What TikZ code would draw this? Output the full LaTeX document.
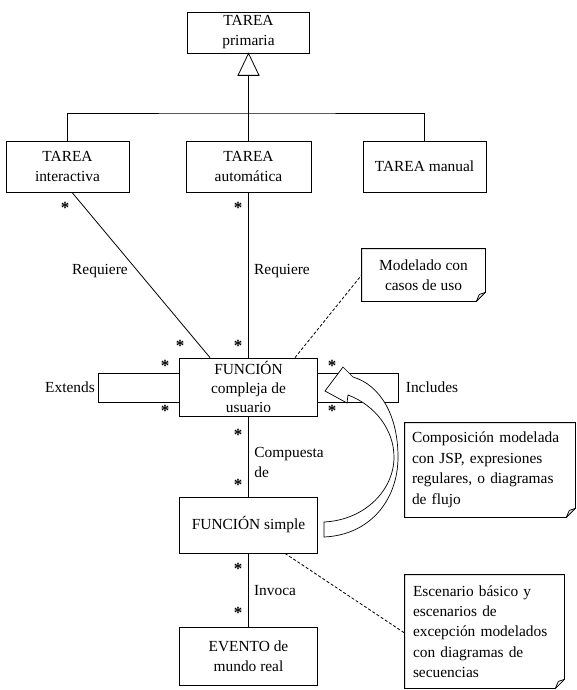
\documentclass[tikz,border=0pt]{standalone}
\usepackage{fontspec}
\setmainfont{Liberation Serif}
\begin{document}
\begin{tikzpicture}[x=1pt,y=-1pt,
  line width=0.8pt,
  font=\fontsize{15.4pt}{20pt}\selectfont,
  box/.style={draw, rectangle, inner sep=0pt, align=center},
  lbl/.style={inner sep=0pt},
  mult/.style={inner sep=0pt, anchor=base, font=\fontsize{17pt}{17pt}\selectfont\bfseries},
  notetext/.style={inner sep=0pt, align=left},
  assoc/.style={draw},
  anno/.style={draw, dashed, dash pattern=on 3pt off 2pt}]
\useasboundingbox (0,0) rectangle (577,690);

% note with folded bottom-right corner
\newcommand\foldednote[1]{%
  \draw[fill=white] (#1.north west) -- (#1.north east) -- ([yshift=9pt]#1.south east)
    -- ([xshift=-9pt]#1.south east) -- (#1.south west) -- cycle;
  \draw ([xshift=-9pt]#1.south east) .. controls ([xshift=-7pt,yshift=5pt]#1.south east)
    .. ([xshift=-6pt,yshift=7pt]#1.south east) -- ([yshift=9pt]#1.south east);}

% class boxes
\node[box, minimum width=122, minimum height=41] (prim) at (248.5,32.5) {TAREA\\primaria};
\node[box, minimum width=123, minimum height=51] (inter) at (67.5,166.5) {TAREA\\interactiva};
\node[box, minimum width=125, minimum height=51] (auto) at (248.5,166.5) {TAREA\\automática};
\node[box, minimum width=123, minimum height=51] (man) at (424.5,166.5) {TAREA manual};
\node[box, minimum width=138, minimum height=58, font=\fontsize{15.4pt}{19pt}\selectfont] (fc) at (248.5,387) {FUNCIÓN\\compleja de\\usuario};
\node[box, minimum width=138, minimum height=56] (fs) at (248.5,525) {FUNCIÓN simple};
\node[box, minimum width=138, minimum height=58] (ev) at (248.5,656) {EVENTO de\\mundo real};

% generalization tree
\draw[fill=white] (prim.south) -- ++(-10.5,22) -- ++(21,0) -- cycle;
\coordinate (tribase) at (248.5,76);
\coordinate (bus) at (248.5,113);
\draw (tribase) -- (auto.north);
\draw (inter.north) |- (bus) -| (man.north);

% associations
\draw[assoc] ([xshift=4.5pt]inter.south) -- ([xshift=-38.5pt]fc.north);
\draw[assoc] (auto.south) -- (fc.north);
\draw[assoc] (fc.south) -- (fs.north);
\draw[assoc] (fs.south) -- (ev.north);

% self associations
\draw[assoc] ([yshift=14pt]fc.west) -- ++(-81,0) -- ++(0,29) -- ([yshift=-15pt]fc.west);
\draw[assoc] ([yshift=14pt]fc.east) -- ++(80.5,0) -- ++(0,29) -- ([yshift=-15pt]fc.east);

% notes
\node[notetext, align=center, minimum width=123, minimum height=52] (n1) at (423.5,275) {};
\node[notetext, minimum width=170, minimum height=94] (n2) at (490,470) {};
\node[notetext, minimum width=159, minimum height=113] (n3) at (484.5,631.5) {};
\foldednote{n1}
\foldednote{n2}
\foldednote{n3}
\node[notetext, align=center] (n1t) at (n1.center) {Modelado con\\casos de uso};
\node[notetext, text width=156, font=\fontsize{15.4pt}{20.5pt}\selectfont] (n2t) at (n2.center)
      {Composición modelada\\con JSP, expresiones\\regulares, o diagramas\\de flujo};
\node[notetext, text width=143, font=\fontsize{15.4pt}{20.3pt}\selectfont] (n3t) at (n3.center)
      {Escenario básico y\\escenarios de\\excepción modelados\\con diagramas de\\secuencias};

% note anchors
\draw[anno] ([xshift=46.5pt]fc.north) -- (n1.west);
\draw[anno] ([xshift=36.5pt]fs.south) -- ([yshift=-1.5pt]n3.west);

% curved block arrow from the simple function back to the complex one
\draw[fill=white, line width=0.7pt]
  (324,537) .. controls (370,535) and (398,500) .. (398,457)
  .. controls (398,415) and (380,385) .. (353,377)
  -- (343,367) -- (325,391) -- (347,403) -- (348,395)
  .. controls (375,405) and (394,430) .. (394,457)
  .. controls (394,490) and (365,520) .. (324,522) -- cycle;

% labels
\node[lbl] (reqL) at (100,271) {Requiere};
\node[lbl] (reqR) at (282,271) {Requiere};
\node[lbl] (ext) at (70,387) {Extends};
\node[lbl] (inc) at (432,387) {Includes};
\node[lbl, align=left, anchor=west] (comp) at (254,462) {Compuesta\\de};
\node[lbl] (inv) at (275,591) {Invoca};

% multiplicities
\node[mult] (m1) at (65,213) {*};
\node[mult] (m2) at (238,213) {*};
\node[mult] (m3) at (180,351) {*};
\node[mult] (m4) at (238,351) {*};
\node[mult] (m5) at (165,371) {*};
\node[mult] (m6) at (165,416) {*};
\node[mult] (m7) at (332,371) {*};
\node[mult] (m8) at (332,416) {*};
\node[mult] (m9) at (238,440) {*};
\node[mult] (m10) at (238,490) {*};
\node[mult] (m11) at (238,574) {*};
\node[mult] (m12) at (238,618) {*};
\end{tikzpicture}
\end{document}
